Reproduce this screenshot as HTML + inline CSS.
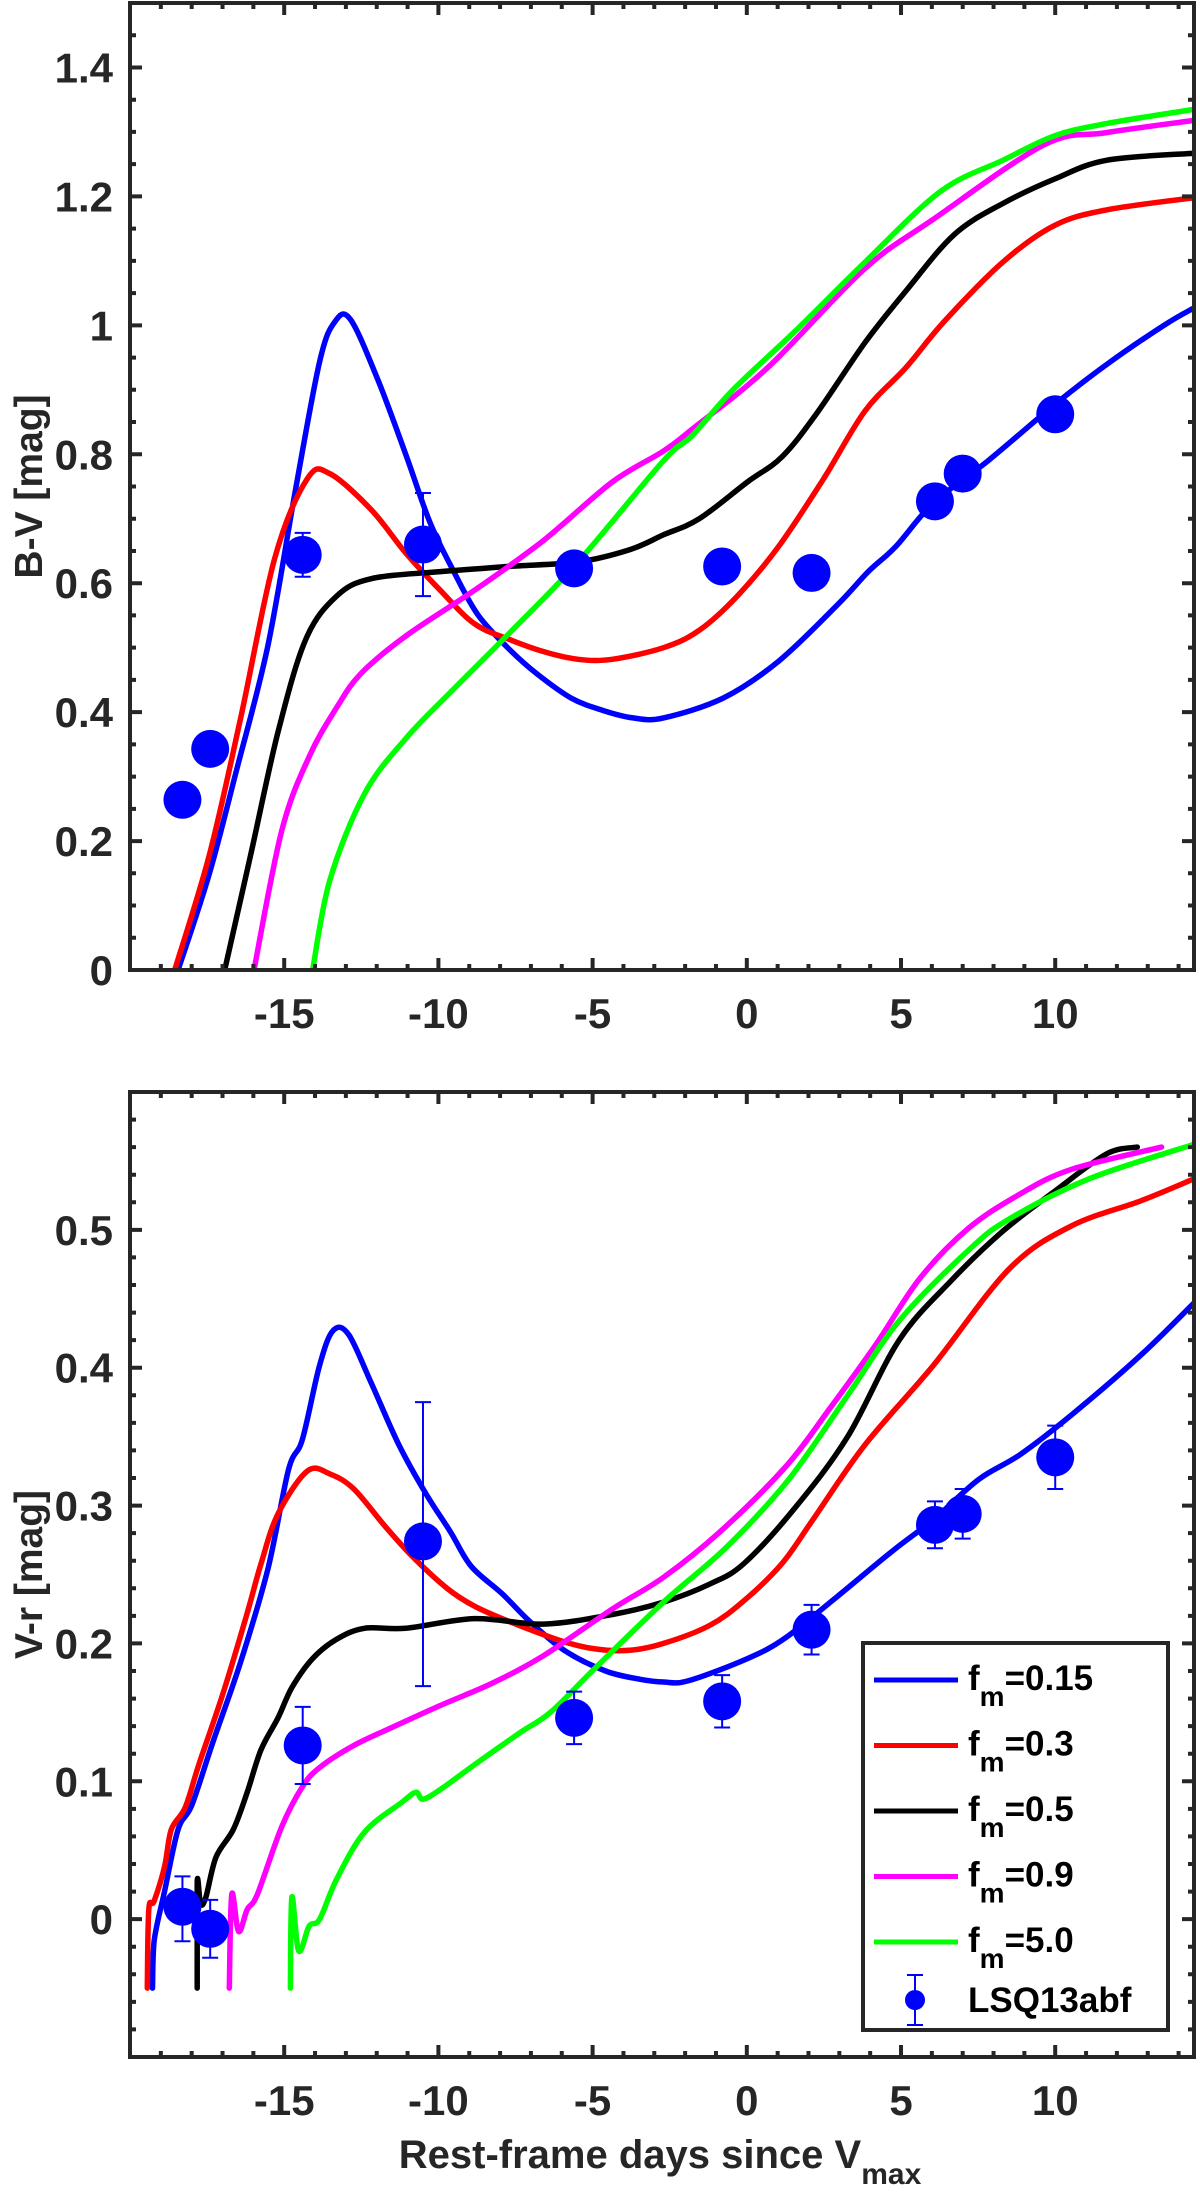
<!DOCTYPE html>
<html><head><meta charset="utf-8"><title>Colour curves</title>
<style>
html,body{margin:0;padding:0;background:#fff;}
svg{display:block;font-family:"Liberation Sans",Arial,sans-serif;font-weight:bold;}
</style></head>
<body>
<svg id="chart" width="1200" height="2198" viewBox="0 0 1200 2198" xmlns="http://www.w3.org/2000/svg"></svg>
<script>
// ---------- shared ----------
const modelNames = ["f_m=0.15","f_m=0.3","f_m=0.5","f_m=0.9","f_m=5.0"];
const modelColors = ["#0000ff","#ff0000","#000000","#ff00ff","#00ff00"];
const xTicks = [-15,-10,-5,0,5,10];
// ---------- B-V panel data ----------
const bvObsX = [-18.3,-17.4,-14.4,-10.5,-5.6,-0.8,2.1,6.1,7.0,10.0];
const bvObsY = [0.264,0.343,0.644,0.66,0.623,0.626,0.616,0.727,0.770,0.862];
const bvObsErr = [0,0,0.034,0.08,0.02,0,0,0,0,0.02];
const bvBlueX = [-18.44,-17.43,-16.54,-15.53,-14.64,-13.85,-13.35,-12.85,-11.96,-11.06,-10.28,-9.5,-8.72,-7.71,-6.82,-5.7,-4.69,-3.69,-2.7,-0.76,1.03,2.93,3.94,4.83,6.06,7.85,9.98,11.66,13.56,14.5];
const bvBlueY = [0,0.149,0.311,0.503,0.743,0.944,1.006,1.009,0.915,0.80,0.695,0.618,0.551,0.498,0.46,0.422,0.403,0.391,0.391,0.422,0.479,0.566,0.618,0.657,0.725,0.791,0.877,0.939,1.001,1.027];
const bvRedX = [-18.55,-17.43,-16.42,-15.31,-14.25,-13.52,-12.18,-11.06,-9.94,-8.83,-7.71,-6.6,-5.47,-4.36,-2.7,-1.54,-0.31,1.03,2.49,3.83,5.17,6.4,8.3,9.98,11.66,14.5];
const bvRedY = [0,0.178,0.389,0.638,0.762,0.77,0.714,0.647,0.589,0.537,0.513,0.494,0.482,0.482,0.5,0.527,0.58,0.657,0.762,0.867,0.935,1.006,1.098,1.155,1.179,1.198];
const bvBlackX = [-16.93,-16.09,-15.2,-14.3,-13.3,-12.18,-9.94,-7.71,-5.47,-3.8,-2.7,-1.54,0.02,1.14,2.26,3.83,5.17,6.73,8.3,9.98,11.66,14.5];
const bvBlackY = [0,0.178,0.369,0.513,0.58,0.607,0.618,0.626,0.633,0.652,0.675,0.7,0.757,0.796,0.863,0.973,1.054,1.141,1.189,1.227,1.256,1.267];
const bvMagX = [-15.98,-15.08,-14.19,-13.3,-12.51,-11.06,-8.83,-6.6,-4.36,-2.7,-1.77,0.69,3.83,6.06,9.64,11.66,14.5];
const bvMagY = [0,0.216,0.331,0.407,0.46,0.518,0.589,0.666,0.757,0.805,0.839,0.935,1.088,1.165,1.28,1.299,1.318];
const bvGreenX = [-14.08,-13.52,-12.4,-11.06,-9.5,-7.71,-5.47,-2.7,-1.77,-0.43,1.59,3.83,6.29,8.3,9.98,11.66,14.5];
const bvGreenY = [0,0.139,0.273,0.359,0.436,0.522,0.633,0.79,0.829,0.901,0.992,1.098,1.208,1.256,1.294,1.313,1.335];
const bvYTicks = [0,0.2,0.4,0.6,0.8,1,1.2,1.4];
const bvYLabels = ["0","0.2","0.4","0.6","0.8","1","1.2","1.4"];
// ---------- V-r panel data ----------
const vrObsX = [-18.3,-17.4,-14.4,-10.5,-5.6,-0.8,2.1,6.1,7.0,10.0];
const vrObsY = [0.009,-0.007,0.126,0.274,0.146,0.158,0.21,0.286,0.294,0.335];
const vrObsErrUp = [0.022,0.021,0.028,0.101,0.019,0.019,0.018,0.017,0.018,0.023];
const vrObsErrDn = [0.025,0.021,0.028,0.105,0.019,0.019,0.018,0.017,0.018,0.023];
const vrBlueX = [-19.27,-19.22,-18.88,-18.44,-17.99,-17.32,-16.42,-15.53,-14.86,-14.41,-13.85,-13.41,-12.91,-12.18,-11.28,-10.39,-9.61,-8.94,-7.93,-7.04,-5.92,-4.58,-3.46,-2.7,-1.88,0.02,1.25,2.93,4.72,6.06,7.52,8.86,10.54,12.77,14.5];
const vrBlueY = [-0.05,-0.016,0.02,0.065,0.083,0.128,0.186,0.254,0.326,0.348,0.402,0.427,0.424,0.389,0.344,0.308,0.281,0.256,0.236,0.216,0.195,0.18,0.174,0.172,0.173,0.189,0.204,0.234,0.267,0.29,0.319,0.337,0.366,0.409,0.447];
const vrRedX = [-19.44,-19.39,-19.22,-18.88,-18.66,-18.21,-17.77,-16.98,-16.2,-15.75,-15.2,-14.25,-13.52,-12.74,-11.73,-10.84,-9.72,-8.83,-7.71,-6.03,-4.92,-3.8,-2.7,-1.21,-0.09,1.14,2.15,3.83,6.06,8.52,10.54,12.77,14.5];
const vrRedY = [-0.05,0.007,0.013,0.038,0.065,0.081,0.112,0.164,0.222,0.258,0.294,0.325,0.323,0.312,0.285,0.263,0.24,0.227,0.216,0.202,0.196,0.195,0.2,0.213,0.231,0.258,0.29,0.344,0.402,0.472,0.503,0.521,0.537];
const vrBlackX = [-17.82,-17.82,-17.71,-17.54,-17.21,-16.65,-16.2,-15.75,-15.2,-14.75,-14.08,-13.3,-12.4,-11.06,-8.83,-6.6,-4.36,-2.7,-1.21,-0.09,1.59,3.27,4.94,6.62,8.3,9.98,11.66,12.66];
const vrBlackY = [-0.05,0.027,0.011,0.016,0.045,0.065,0.092,0.123,0.146,0.168,0.189,0.203,0.211,0.211,0.218,0.214,0.221,0.23,0.243,0.258,0.299,0.35,0.42,0.463,0.499,0.528,0.555,0.56];
const vrMagX = [-16.78,-16.7,-16.48,-16.2,-15.87,-15.08,-14.41,-13.85,-12.74,-11.51,-9.94,-8.27,-6.6,-4.36,-2.7,-0.87,1.25,2.71,4.16,5.62,7.18,8.86,10.54,13.45];
const vrMagY = [-0.05,0.018,-0.009,0.007,0.018,0.067,0.096,0.11,0.126,0.139,0.155,0.171,0.191,0.225,0.248,0.281,0.328,0.371,0.416,0.465,0.501,0.526,0.544,0.56];
const vrGreenX = [-14.8,-14.75,-14.53,-14.19,-13.85,-13.3,-12.4,-11.17,-10.73,-10.5,-9.94,-8.83,-7.37,-6.37,-4.92,-2.7,-0.65,1.36,3.27,4.94,7.18,8.52,11.1,14.5];
const vrGreenY = [-0.05,0.016,-0.023,-0.005,0,0.029,0.063,0.085,0.092,0.087,0.094,0.112,0.135,0.15,0.182,0.23,0.27,0.319,0.38,0.434,0.485,0.508,0.537,0.562];
const vrYTicks = [0,0.1,0.2,0.3,0.4,0.5];
const vrYLabels = ["0","0.1","0.2","0.3","0.4","0.5"];

const NS = "http://www.w3.org/2000/svg";
const svg = document.getElementById("chart");
const AX = "#262626";
function mk(tag, attrs, parent){
  const e = document.createElementNS(NS, tag);
  for (const k in attrs) e.setAttribute(k, attrs[k]);
  (parent||svg).appendChild(e);
  return e;
}
const X0 = 130, X1 = 1194, XMIN = -20, XMAX = 14.5;
function sx(v){ return X0 + (v - XMIN) / (XMAX - XMIN) * (X1 - X0); }

function smoothPath(pts){
  let d = "M" + pts[0][0].toFixed(1) + " " + pts[0][1].toFixed(1);
  for (let i = 0; i < pts.length - 1; i++) {
    const p0 = pts[Math.max(0, i - 1)], p1 = pts[i], p2 = pts[i + 1], p3 = pts[Math.min(pts.length - 1, i + 2)];
    const t = 1 / 6;
    let c1x = p1[0] + (p2[0] - p0[0]) * t, c1y = p1[1] + (p2[1] - p0[1]) * t;
    let c2x = p2[0] - (p3[0] - p1[0]) * t, c2y = p2[1] - (p3[1] - p1[1]) * t;
    // clamp x to avoid backward loops
    c1x = Math.min(Math.max(c1x, Math.min(p1[0], p2[0])), Math.max(p1[0], p2[0]));
    c2x = Math.min(Math.max(c2x, Math.min(p1[0], p2[0])), Math.max(p1[0], p2[0]));
    d += ` C${c1x.toFixed(1)} ${c1y.toFixed(1)} ${c2x.toFixed(1)} ${c2y.toFixed(1)} ${p2[0].toFixed(1)} ${p2[1].toFixed(1)}`;
  }
  return d;
}

function panel(cfg){
  const g = mk("g", {});
  
  
  const sy = v => cfg.y1 - (v - cfg.ymin) / (cfg.ymax - cfg.ymin) * (cfg.y1 - cfg.y0);
  const cp = mk("clipPath", {id: cfg.name + "-clip"}, g);
  mk("rect", {x: X0, y: cfg.y0, width: X1 - X0, height: cfg.y1 - cfg.y0}, cp);
  const cg = mk("g", {"clip-path": "url(#" + cfg.name + "-clip)"}, g);
  cfg.curves.forEach((c, i) => {
    const pts = c[0].map((xv, j) => [sx(xv), sy(c[1][j])]);
    const p = mk("path", {d: smoothPath(pts), fill: "none", stroke: modelColors[i], "stroke-width": 5.5, "stroke-linejoin": "round", "stroke-linecap": "round"}, cg);
    
    
  });
  cfg.obsX.forEach((xv, i) => {
    const cx = sx(xv), cy = sy(cfg.obsY[i]);
    const up = cfg.errUp[i], dn = cfg.errDn[i];
    if (up > 0 || dn > 0) {
      const ya = sy(cfg.obsY[i] + up), yb = sy(cfg.obsY[i] - dn);
      const eb = mk("path", {d: `M${cx} ${ya}V${yb}M${cx-8} ${ya}H${cx+8}M${cx-8} ${yb}H${cx+8}`, stroke: "#0000ff", "stroke-width": 2, fill: "none"}, g);
      
      
    }
    const c = mk("circle", {cx: cx, cy: cy, r: 19, fill: "#0000ff"}, g);
    
    
  });
  const box = mk("rect", {x: X0, y: cfg.y0, width: X1 - X0, height: cfg.y1 - cfg.y0, fill: "none", stroke: AX, "stroke-width": 4}, g);
  
  
  let td = "";
  for (let v = -19; v <= 14; v++) {
    const L = (v % 5 === 0) ? 12 : 6, x = sx(v);
    td += `M${x} ${cfg.y1}V${cfg.y1 - L}M${x} ${cfg.y0}V${cfg.y0 + L}`;
  }
  const n = Math.round((cfg.ymax - cfg.ymin) / cfg.minor);
  for (let k = 0; k <= n; k++) {
    const v = cfg.ymin + k * cfg.minor, y = sy(v);
    const major = Math.abs(v / cfg.major - Math.round(v / cfg.major)) < 1e-6;
    const L = major ? 12 : 6;
    td += `M${X0} ${y}H${X0 + L}M${X1} ${y}H${X1 - L}`;
  }
  const tk = mk("path", {d: td, stroke: AX, "stroke-width": 4, fill: "none"}, g);
  
  
  xTicks.forEach(v => {
    const t = mk("text", {x: sx(v), y: cfg.y1 + 58, "text-anchor": "middle", "font-size": 42, fill: AX}, g);
    t.textContent = String(v);
    
    
  });
  cfg.yTicks.forEach((v, i) => {
    const t = mk("text", {x: 113, y: sy(v) + 15, "text-anchor": "end", "font-size": 42, fill: AX}, g);
    t.textContent = cfg.yLabels[i];
    
    
  });
  const cyT = (cfg.y0 + cfg.y1) / 2;
  const yt = mk("text", {x: 0, y: 0, transform: `translate(42 ${cyT}) rotate(-90)`, "text-anchor": "middle", "font-size": 39, fill: AX}, g);
  yt.textContent = cfg.ytitle;
  
  
}

panel({name: "bv-panel", y0: 3, y1: 970, ymin: 0, ymax: 1.5, minor: 0.05, major: 0.2,
  curves: [[bvBlueX,bvBlueY],[bvRedX,bvRedY],[bvBlackX,bvBlackY],[bvMagX,bvMagY],[bvGreenX,bvGreenY]],
  obsX: bvObsX, obsY: bvObsY, errUp: bvObsErr, errDn: bvObsErr,
  yTicks: bvYTicks, yLabels: bvYLabels, ytitle: "B-V [mag]"});
panel({name: "vr-panel", y0: 1092, y1: 2057, ymin: -0.1, ymax: 0.6, minor: 0.02, major: 0.1,
  curves: [[vrBlueX,vrBlueY],[vrRedX,vrRedY],[vrBlackX,vrBlackY],[vrMagX,vrMagY],[vrGreenX,vrGreenY]],
  obsX: vrObsX, obsY: vrObsY, errUp: vrObsErrUp, errDn: vrObsErrDn,
  yTicks: vrYTicks, yLabels: vrYLabels, ytitle: "V-r [mag]"});

const xt = mk("text", {x: 660, y: 2168, "text-anchor": "middle", "font-size": 40, fill: AX});


xt.innerHTML = 'Rest-frame days since V<tspan dy="16" font-size="30">max</tspan>';

const lg = mk("g", {});


const lbox = mk("rect", {x: 863, y: 1643, width: 305, height: 387, fill: "#fff", stroke: AX, "stroke-width": 4}, lg);


const legVals = ["0.15","0.3","0.5","0.9","5.0"];
modelNames.forEach((nm, i) => {
  const y = 1680 + i * 65.5;
  const ln = mk("line", {x1: 874, x2: 958, y1: y, y2: y, stroke: modelColors[i], "stroke-width": 5}, lg);
  
  
  const t = mk("text", {x: 968, y: y + 10, "font-size": 35, fill: "#000"}, lg);
  
  
  t.innerHTML = 'f<tspan dy="16" font-size="28">m</tspan><tspan dy="-16">=' + legVals[i] + '</tspan>';
});
const ly = 2000;
const le = mk("path", {d: `M915 ${ly-25}V${ly+25}M907 ${ly-25}H923M907 ${ly+25}H923`, stroke: "#0000ff", "stroke-width": 2, fill: "none"}, lg);


const lc = mk("circle", {cx: 915, cy: ly, r: 10, fill: "#0000ff"}, lg);


const lt = mk("text", {x: 968, y: ly + 12, "font-size": 35, fill: "#000"}, lg);
lt.textContent = "LSQ13abf";


</script>
</body></html>
